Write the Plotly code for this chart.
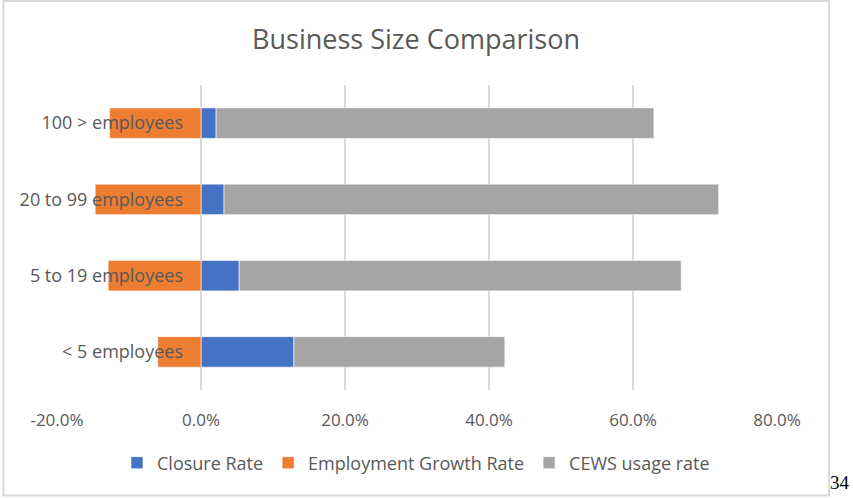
import plotly.graph_objects as go

# Business size groups, bottom to top
categories = ["< 5 employees", "5 to 19 employees", "20 to 99 employees", "100 > employees"]

# Rates in percent
closure_rate = [12.9, 5.3, 3.2, 2.1]
employment_growth = [-6.0, -12.9, -14.7, -12.7]
cews_usage = [29.3, 61.4, 68.7, 60.8]

x_ticks = [-20, 0, 20, 40, 60, 80]
x_tick_text = [f"{v:.1f}%" for v in x_ticks]

BLUE = "#4472C4"
ORANGE = "#ED7D31"
GRAY = "#A5A5A5"
TEXT = "#595959"
GRID = "#D9D9D9"

# Plot area in pixels (figure 853 x 498)
L, R, T, B = 57, 777, 85, 390
W, H = 853, 498


def px_x(p):
    return (p - L) / (R - L)


def px_y(p):
    return (B - p) / (B - T)


bar_line = dict(color="rgba(255,255,255,0.6)", width=1)

fig = go.Figure()
fig.add_trace(go.Bar(
    y=categories, x=closure_rate, orientation="h", name="Closure Rate",
    marker=dict(color=BLUE, line=bar_line), width=0.4,
))
fig.add_trace(go.Bar(
    y=categories, x=employment_growth, orientation="h", name="Employment Growth Rate",
    marker=dict(color=ORANGE, line=bar_line), width=0.4,
))
fig.add_trace(go.Bar(
    y=categories, x=cews_usage, orientation="h", name="CEWS usage rate",
    marker=dict(color=GRAY, line=bar_line), width=0.4,
))

fig.update_layout(
    width=W, height=H,
    margin=dict(l=L, r=W - R, t=T, b=H - B),
    paper_bgcolor="white", plot_bgcolor="white",
    barmode="relative",
    title=dict(
        text="Business Size Comparison",
        x=416 / W, xref="container", xanchor="center",
        y=1 - 40 / H, yref="container", yanchor="middle",
        font=dict(family="Open Sans", size=27, color=TEXT),
    ),
    xaxis=dict(
        range=[-20, 80], tickvals=x_ticks, ticktext=x_tick_text,
        showgrid=True, gridcolor=GRID, gridwidth=2,
        zeroline=True, zerolinecolor=GRID, zerolinewidth=2,
        showline=False, ticks="", ticklabelstandoff=18,
        tickfont=dict(family="Open Sans", size=17, color=TEXT),
        fixedrange=True,
    ),
    yaxis=dict(
        type="category", categoryorder="array", categoryarray=categories,
        range=[-0.5, 3.5],
        anchor="free", position=0.2, side="left",
        showgrid=False, zeroline=False, showline=False, ticks="",
        ticklabelstandoff=18,
        tickfont=dict(family="Open Sans", size=18, color=TEXT),
        fixedrange=True,
    ),
    legend=dict(
        orientation="h", x=px_x(416), xanchor="center",
        y=px_y(463), yanchor="middle",
        font=dict(family="Open Sans", size=18, color=TEXT),
        itemwidth=30, traceorder="normal",
    ),
    showlegend=True,
)

# Outer chart border
fig.add_shape(
    type="rect", xref="paper", yref="paper",
    x0=px_x(3.5), x1=px_x(829), y0=px_y(495.5), y1=px_y(1),
    line=dict(color=GRID, width=2), fillcolor="rgba(0,0,0,0)", layer="below",
)

# Page number
fig.add_annotation(
    text="34", xref="paper", yref="paper",
    x=px_x(840), y=px_y(482), xanchor="center", yanchor="middle",
    showarrow=False, font=dict(family="Liberation Serif", size=19, color="black"),
)

fig.write_html("out.html")
